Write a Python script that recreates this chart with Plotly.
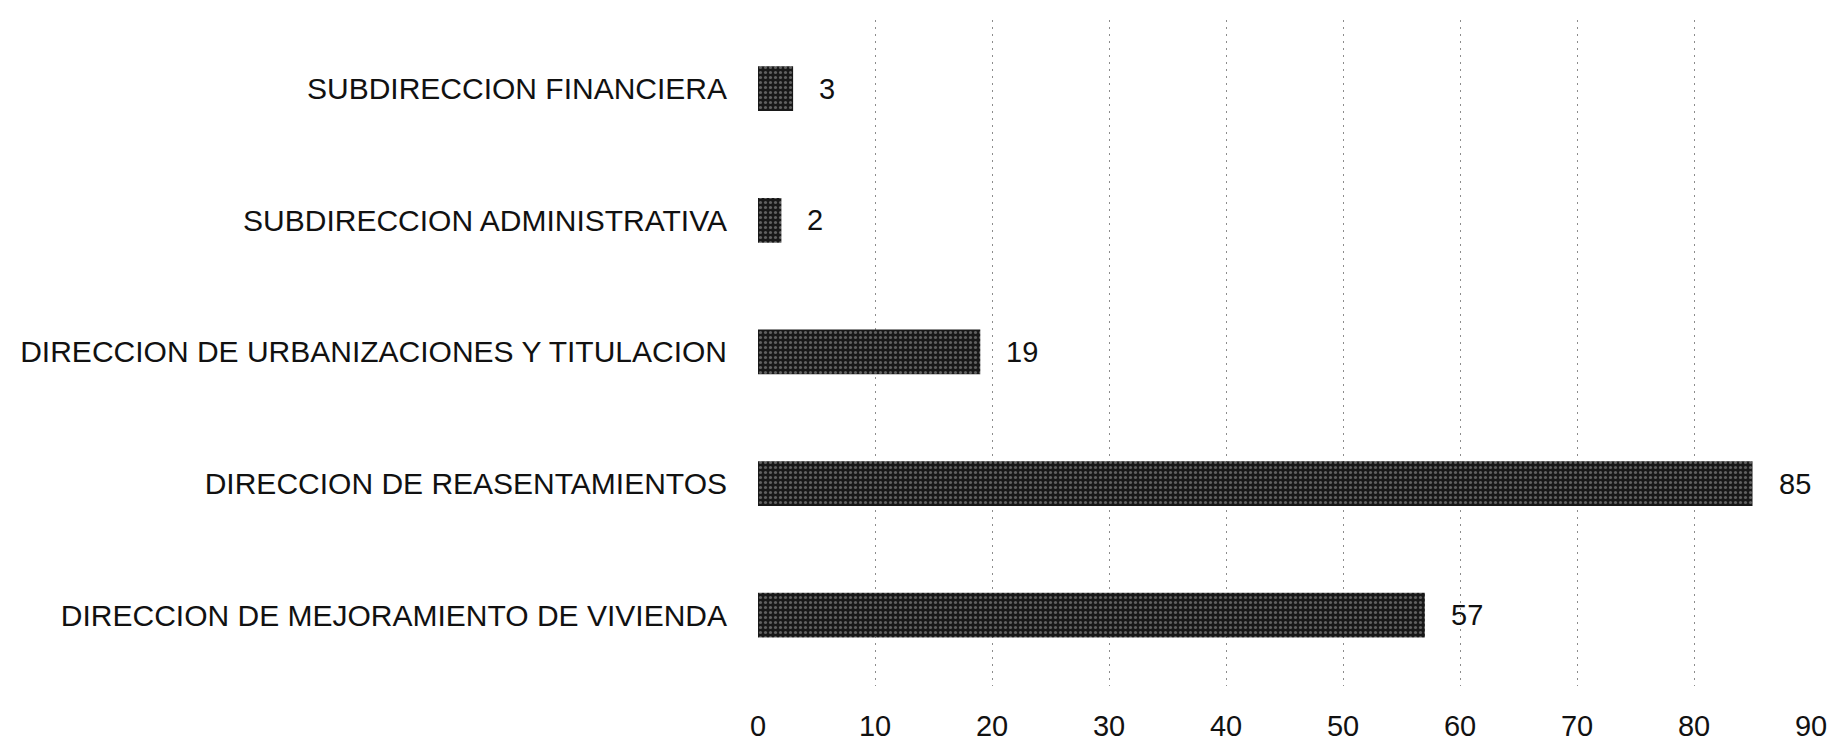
import plotly.graph_objects as go

categories = [
    "DIRECCION DE MEJORAMIENTO DE VIVIENDA",
    "DIRECCION DE REASENTAMIENTOS",
    "DIRECCION DE URBANIZACIONES Y TITULACION",
    "SUBDIRECCION ADMINISTRATIVA",
    "SUBDIRECCION FINANCIERA",
]
values = [57, 85, 19, 2, 3]
x_ticks = [0, 10, 20, 30, 40, 50, 60, 70, 80, 90]

FONT = "Liberation Sans, Arial, sans-serif"

fig = go.Figure()
fig.add_trace(go.Bar(
    y=categories,
    x=values,
    orientation="h",
    width=0.34,
    marker=dict(
        color="#181818",
        line=dict(width=0),
        pattern=dict(shape=".", fgcolor="#9a9a9a", bgcolor="#181818",
                     size=5, solidity=0.3, fgopacity=0.55),
    ),
    hoverinfo="skip",
))

for c, v in zip(categories, values):
    fig.add_annotation(
        x=v, y=c, text=str(v), showarrow=False,
        xanchor="left", yanchor="middle", xshift=24,
        font=dict(family=FONT, size=29, color="#111"),
    )

fig.update_layout(
    width=1844, height=746,
    margin=dict(l=735, r=41, t=12, b=56),
    paper_bgcolor="white", plot_bgcolor="white",
    showlegend=False,
    font=dict(family=FONT, size=29, color="#111"),
)
fig.update_xaxes(
    range=[0, 90], tickvals=x_ticks, ticktext=[str(t) for t in x_ticks],
    showgrid=True, gridcolor="#8c8c8c", griddash="2px,5px", gridwidth=1,
    zeroline=False, showline=False, ticks="",
    ticklabelstandoff=20,
    tickfont=dict(family=FONT, size=29, color="#111"),
)
fig.update_yaxes(
    type="category", categoryorder="array", categoryarray=categories,
    range=[-0.538, 4.522],
    showgrid=False, zeroline=False, showline=False, ticks="",
    ticklabelstandoff=30,
    tickfont=dict(family=FONT, size=30, color="#111"),
)

fig.write_html("out.html")
